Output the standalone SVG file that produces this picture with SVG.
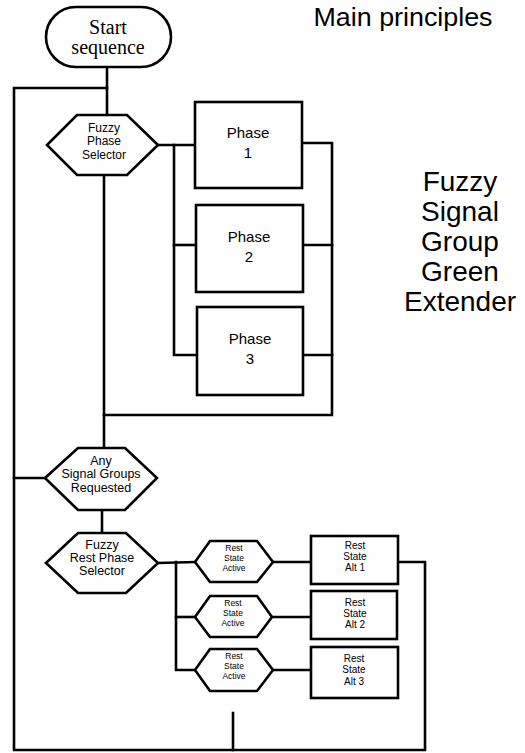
<svg xmlns="http://www.w3.org/2000/svg" width="525" height="753" viewBox="0 0 525 753">
<style>
.s{fill:#fff;stroke:#000;stroke-width:2.6}
.c{fill:none;stroke:#000;stroke-width:2.6;stroke-linecap:square}
text{font-family:"Liberation Sans",Arial,sans-serif;fill:#000;text-anchor:middle}
.serif{font-family:"Liberation Serif","Times New Roman",serif;font-size:20px}
.h{font-size:12.5px}
.p{font-size:15px}
.sm{font-size:8.5px}
.b{font-size:10px}
.big{font-size:28px}
</style>
<rect width="525" height="753" fill="#fff"/>
<g id="connectors">
<polyline class="c" points="107,67 107,115"/>
<polyline class="c" points="107,88 14,88 14,750 425,750 425,562 398,562"/>
<polyline class="c" points="233,713 233,750"/>
<polyline class="c" points="158,145 195,145"/>
<polyline class="c" points="174,145 174,355 197,355"/>
<polyline class="c" points="174,245 196,245"/>
<polyline class="c" points="302,143 332,143 332,415 104,415"/>
<polyline class="c" points="303,245 332,245"/>
<polyline class="c" points="303,355 332,355"/>
<polyline class="c" points="104,175 104,448"/>
<polyline class="c" points="14,478 45,478"/>
<polyline class="c" points="102,510 102,533"/>
<polyline class="c" points="158,563 195,562"/>
<polyline class="c" points="176,562 176,670 195,670"/>
<polyline class="c" points="176,617 195,617"/>
<polyline class="c" points="273,562 311,562"/>
<polyline class="c" points="272,617 311,617"/>
<polyline class="c" points="273,670 311,670"/>
</g>
<g id="start">
<rect class="s" x="46" y="7" width="125" height="60" rx="30"/>
<text class="serif" x="108" y="34">Start</text>
<text class="serif" x="108" y="54">sequence</text>
</g>
<g id="title"><text x="403" y="26" style="font-size:26px" textLength="179" lengthAdjust="spacingAndGlyphs">Main principles</text></g>
<g id="side-title">
<text class="big" x="460" y="191">Fuzzy</text>
<text class="big" x="460" y="221">Signal</text>
<text class="big" x="460" y="251">Group</text>
<text class="big" x="460" y="281">Green</text>
<text class="big" x="460" y="311">Extender</text>
</g>
<g id="fuzzy-phase-selector">
<polygon class="s" points="47,145 77,115 127,115 158,145 127,175 77,175"/>
<text class="h" x="104" y="132" style="font-size:12px">Fuzzy</text>
<text class="h" x="104" y="145" style="font-size:12px">Phase</text>
<text class="h" x="104" y="159" style="font-size:12px">Selector</text>
</g>
<g id="phase1">
<rect class="s" x="195" y="102" width="107" height="86"/>
<text class="p" x="248" y="138">Phase</text>
<text class="p" x="248" y="158">1</text>
</g>
<g id="phase2">
<rect class="s" x="196" y="205" width="107" height="87"/>
<text class="p" x="249" y="242">Phase</text>
<text class="p" x="249" y="262">2</text>
</g>
<g id="phase3">
<rect class="s" x="197" y="307" width="106" height="88"/>
<text class="p" x="250" y="344">Phase</text>
<text class="p" x="250" y="364">3</text>
</g>
<g id="any-signal-groups">
<polygon class="s" points="45,478 78,448 125,448 157,478 125,510 78,510"/>
<text class="h" x="101" y="465">Any</text>
<text class="h" x="101" y="478">Signal Groups</text>
<text class="h" x="101" y="492">Requested</text>
</g>
<g id="fuzzy-rest-phase-selector">
<polygon class="s" points="46,563 78,533 126,533 158,563 126,593 78,593"/>
<text class="h" x="102" y="549">Fuzzy</text>
<text class="h" x="102" y="562">Rest Phase</text>
<text class="h" x="102" y="575">Selector</text>
</g>
<g id="rest-state-active-1">
<polygon class="s" points="195,562 210,541 257,541 273,562 257,582 210,582"/>
<text class="sm" x="234" y="551">Rest</text>
<text class="sm" x="234" y="561">State</text>
<text class="sm" x="234" y="571">Active</text>
</g>
<g id="rest-state-active-2">
<polygon class="s" points="195,617 210,596 257,596 272,617 257,637 210,637"/>
<text class="sm" x="233" y="606">Rest</text>
<text class="sm" x="233" y="616">State</text>
<text class="sm" x="233" y="626">Active</text>
</g>
<g id="rest-state-active-3">
<polygon class="s" points="195,670 210,649 257,649 273,670 257,691 210,691"/>
<text class="sm" x="234" y="659">Rest</text>
<text class="sm" x="234" y="669">State</text>
<text class="sm" x="234" y="679">Active</text>
</g>
<g id="rest-state-alt-1">
<rect class="s" x="311" y="536" width="87" height="48"/>
<text class="b" x="355" y="549">Rest</text>
<text class="b" x="355" y="560">State</text>
<text class="b" x="355" y="571">Alt 1</text>
</g>
<g id="rest-state-alt-2">
<rect class="s" x="311" y="591" width="86" height="48"/>
<text class="b" x="355" y="606">Rest</text>
<text class="b" x="355" y="617">State</text>
<text class="b" x="355" y="628">Alt 2</text>
</g>
<g id="rest-state-alt-3">
<rect class="s" x="311" y="647" width="87" height="51"/>
<text class="b" x="354" y="662">Rest</text>
<text class="b" x="354" y="673">State</text>
<text class="b" x="354" y="685">Alt 3</text>
</g>
</svg>
